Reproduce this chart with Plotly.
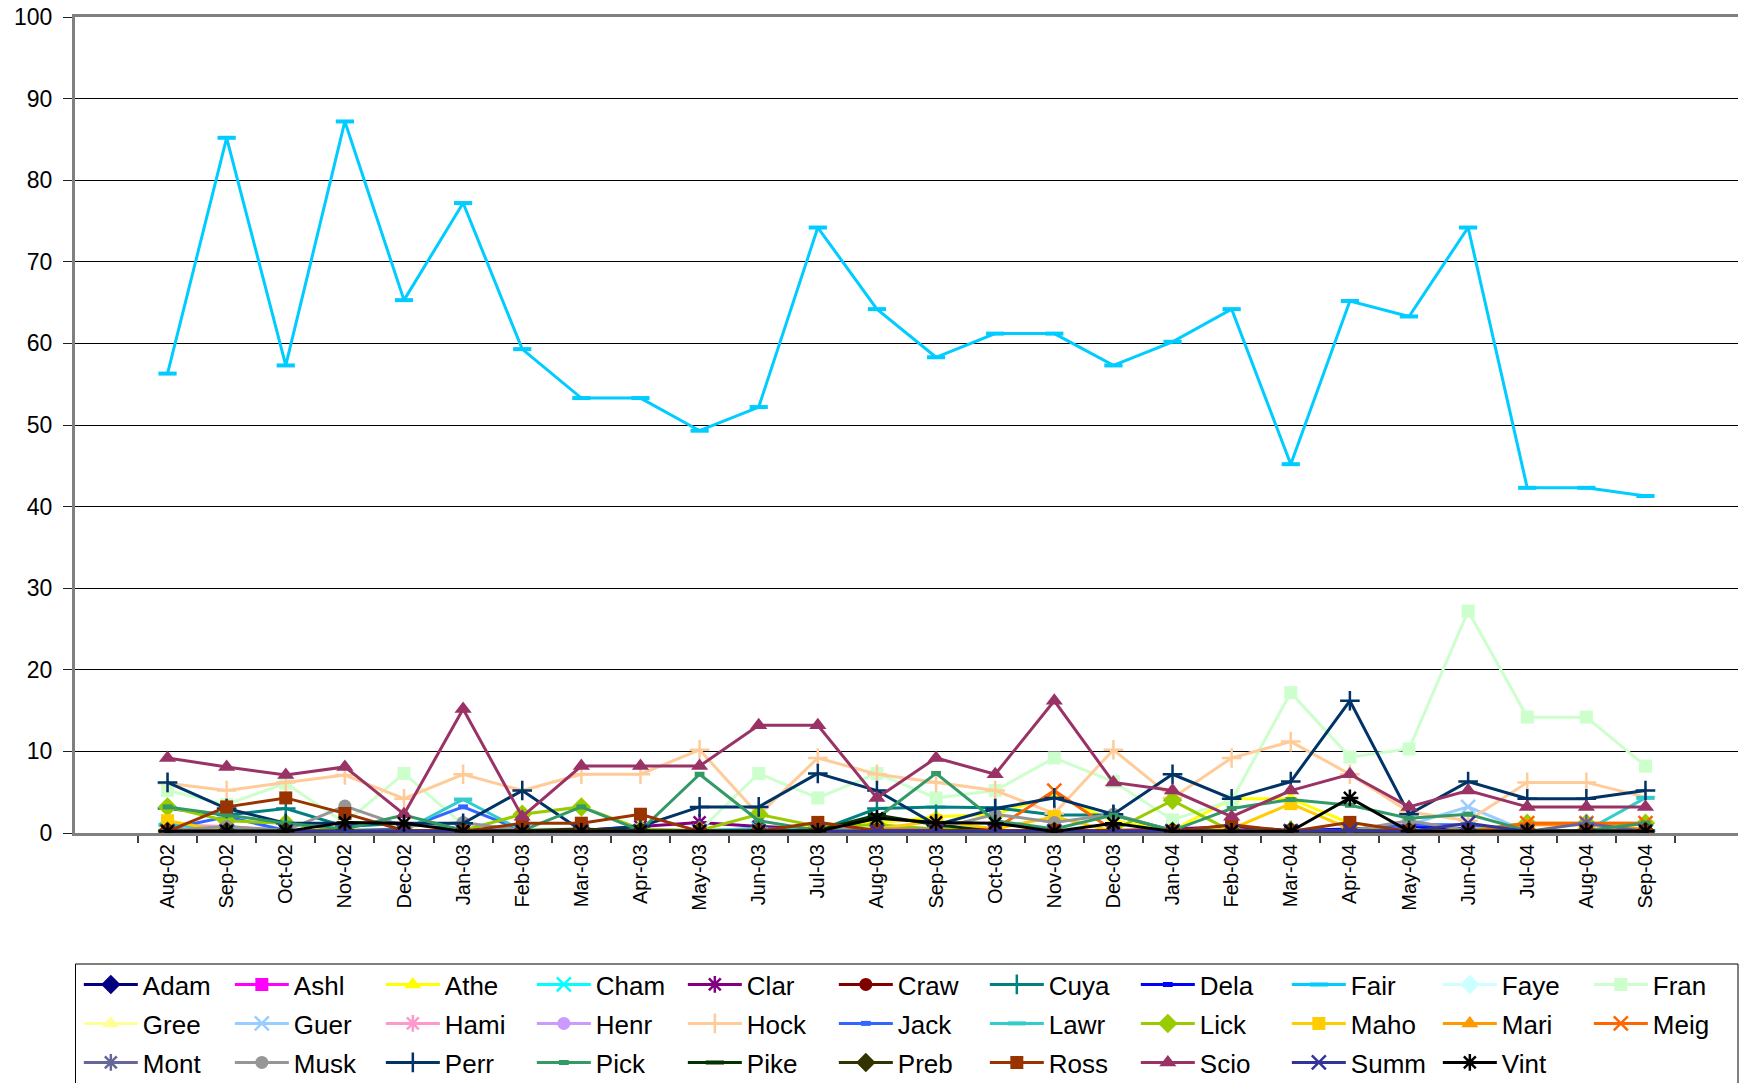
import plotly.graph_objects as go

months = ["Aug-02", "Sep-02", "Oct-02", "Nov-02", "Dec-02", "Jan-03", "Feb-03", "Mar-03",
          "Apr-03", "May-03", "Jun-03", "Jul-03", "Aug-03", "Sep-03", "Oct-03", "Nov-03",
          "Dec-03", "Jan-04", "Feb-04", "Mar-04", "Apr-04", "May-04", "Jun-04", "Jul-04",
          "Aug-04", "Sep-04"]

adam = [0.3, 0.2, 0.2, 0.2, 0.2, 0.2, 0.2, 0.2, 0.2, 0.2, 0.2, 0.2, 0.2, 0.2, 0.2, 0.2, 0.2, 0.2, 0.2, 0.2, 0.2, 0.2, 0.2, 0.2, 0.2, 0.2]
ashl = [0.2, 0.2, 0.2, 0.2, 0.2, 0.2, 0.2, 0.2, 0.2, 0.2, 0.2, 0.2, 0.2, 0.2, 0.2, 0.2, 0.2, 0.2, 0.2, 0.2, 0.2, 0.2, 0.2, 0.2, 0.2, 0.2]
athe = [1.0, 0.5, 0.3, 0.3, 0.3, 0.3, 0.3, 0.3, 0.3, 0.3, 0.5, 1.0, 1.2, 2.0, 2.3, 4.6, 1.5, 0.3, 4.2, 4.2, 1.2, 0.3, 0.3, 0.3, 0.3, 0.3]
cham = [0.5, 0.3, 0.2, 0.2, 0.2, 0.2, 0.2, 0.2, 0.2, 0.2, 0.6, 0.3, 0.3, 0.2, 0.2, 0.2, 0.2, 0.2, 0.2, 0.2, 0.2, 0.2, 0.5, 0.2, 0.2, 0.2]
clar = [0.3, 0.3, 0.3, 0.3, 0.3, 0.3, 0.3, 0.3, 0.8, 1.3, 0.8, 0.5, 0.3, 0.3, 0.3, 0.3, 0.3, 0.5, 0.8, 0.3, 0.3, 0.3, 0.3, 0.3, 0.3, 0.3]
craw = [0.5, 0.3, 0.2, 0.2, 0.2, 0.2, 0.2, 0.2, 0.2, 0.2, 0.2, 0.2, 0.2, 0.2, 0.2, 0.2, 0.2, 0.2, 0.2, 0.2, 0.2, 0.2, 0.2, 0.2, 0.2, 0.2]
cuya = [3.0, 2.2, 3.0, 0.8, 1.2, 0.5, 0.3, 0.3, 0.3, 0.3, 0.3, 0.3, 3.0, 3.2, 3.1, 2.2, 2.2, 0.3, 0.3, 0.3, 0.3, 0.3, 0.3, 0.3, 0.3, 0.3]
dela = [0.2, 0.2, 0.2, 0.2, 0.2, 0.2, 0.2, 0.2, 0.2, 0.2, 0.2, 0.2, 0.2, 0.2, 0.2, 0.2, 0.2, 0.2, 0.2, 0.3, 0.5, 0.8, 0.5, 0.2, 0.2, 0.2]
fair = [56.3, 85.2, 57.3, 87.2, 65.3, 77.2, 59.3, 53.3, 53.3, 49.3, 52.2, 74.2, 64.2, 58.3, 61.2, 61.2, 57.3, 60.2, 64.2, 45.2, 65.2, 63.3, 74.2, 42.3, 42.3, 41.3]
faye = [0.2, 0.2, 0.2, 0.2, 0.2, 0.2, 0.2, 0.2, 0.2, 0.2, 0.2, 0.2, 0.2, 0.2, 0.2, 0.2, 0.2, 0.2, 0.2, 0.2, 0.2, 0.2, 0.2, 0.2, 0.2, 0.2]
fran = [5.2, 3.5, 6.1, 1.2, 7.3, 1.0, 0.5, 0.5, 0.3, 0.3, 7.3, 4.3, 7.3, 4.3, 5.2, 9.2, 6.3, 1.6, 4.0, 17.2, 9.3, 10.3, 27.2, 14.2, 14.2, 8.2]
gree = [0.2, 0.2, 0.2, 0.2, 0.2, 0.2, 0.2, 0.2, 0.2, 0.2, 0.2, 0.2, 0.2, 0.2, 0.2, 0.2, 0.2, 0.2, 0.2, 0.2, 0.2, 0.2, 0.2, 0.2, 0.2, 0.2]
guer = [0.2, 0.2, 0.2, 0.2, 0.2, 0.2, 0.2, 0.2, 0.2, 0.2, 0.2, 0.2, 0.2, 0.2, 0.2, 0.2, 0.2, 0.2, 0.2, 0.2, 0.2, 1.0, 3.2, 0.2, 0.2, 0.2]
hami = [1.0, 0.8, 0.3, 0.2, 0.2, 0.2, 0.2, 0.2, 0.2, 0.2, 0.2, 0.2, 0.2, 0.2, 0.2, 0.2, 0.2, 0.2, 0.2, 0.2, 0.2, 0.2, 0.2, 0.2, 0.2, 0.2]
henr = [0.2, 0.2, 0.2, 0.2, 0.2, 0.2, 0.2, 0.2, 0.2, 0.2, 0.2, 0.2, 0.2, 0.2, 0.2, 0.2, 0.2, 0.2, 0.2, 0.2, 0.2, 0.2, 0.2, 0.2, 0.2, 0.2]
hock = [6.1, 5.2, 6.2, 7.1, 4.2, 7.2, 5.2, 7.2, 7.2, 10.2, 2.2, 9.2, 7.2, 6.2, 5.2, 2.4, 10.2, 4.3, 9.2, 11.2, 7.2, 2.6, 1.5, 6.2, 6.2, 4.4]
jack = [0.5, 2.0, 0.3, 0.3, 0.5, 3.2, 0.3, 0.3, 0.3, 0.3, 0.3, 0.3, 0.3, 0.3, 0.3, 0.3, 0.3, 0.3, 0.3, 0.3, 0.3, 1.0, 1.0, 0.3, 0.3, 0.3]
lawr = [1.0, 0.5, 0.3, 0.3, 0.3, 4.1, 0.3, 0.3, 0.3, 0.3, 0.5, 0.5, 0.3, 0.3, 0.3, 0.3, 0.3, 0.3, 0.3, 0.3, 0.3, 0.3, 0.3, 0.3, 0.3, 4.3]
lick = [3.2, 1.5, 1.2, 0.3, 0.3, 0.3, 2.3, 3.2, 0.5, 0.3, 2.3, 0.8, 1.0, 0.5, 0.3, 0.3, 0.3, 4.0, 0.2, 0.3, 0.3, 0.3, 0.3, 1.2, 1.2, 1.2]
maho = [1.5, 0.2, 0.2, 0.2, 0.2, 0.2, 0.2, 0.2, 0.2, 0.2, 0.2, 0.2, 0.5, 1.5, 0.5, 2.0, 0.2, 0.2, 0.5, 3.6, 0.5, 0.2, 0.2, 0.2, 0.2, 0.2]
mari = [0.3, 0.2, 0.2, 0.2, 0.2, 0.2, 0.2, 0.2, 0.2, 0.2, 0.2, 0.2, 0.2, 0.2, 0.2, 0.2, 0.2, 0.2, 0.2, 0.2, 0.2, 0.2, 0.2, 1.0, 1.0, 0.5]
meig = [0.2, 0.2, 0.2, 0.2, 0.2, 0.2, 0.2, 0.2, 0.2, 0.2, 0.2, 0.2, 0.2, 0.2, 0.5, 5.2, 0.3, 0.2, 0.2, 0.2, 0.2, 0.2, 0.2, 1.2, 1.2, 1.2]
mont = [0.2, 0.2, 0.2, 0.2, 0.2, 0.2, 0.2, 0.2, 0.2, 0.2, 0.2, 0.2, 0.2, 0.2, 0.2, 0.2, 0.2, 0.2, 0.2, 0.2, 0.2, 0.2, 0.2, 0.2, 1.2, 0.2]
musk = [0.3, 0.8, 0.3, 3.3, 0.8, 1.3, 0.3, 0.3, 0.3, 0.3, 0.3, 0.3, 0.5, 0.5, 2.3, 1.3, 2.3, 0.3, 0.3, 0.3, 0.3, 1.5, 0.3, 0.3, 0.3, 0.3]
perr = [6.2, 3.0, 1.2, 1.2, 1.2, 1.2, 5.2, 0.3, 0.8, 3.2, 3.2, 7.3, 5.2, 1.0, 3.0, 4.3, 2.3, 7.2, 4.2, 6.3, 16.2, 2.3, 6.3, 4.2, 4.2, 5.2]
pick = [3.2, 2.2, 1.2, 0.5, 2.2, 0.3, 0.3, 3.2, 0.3, 7.2, 1.5, 0.3, 1.8, 7.3, 1.5, 0.5, 2.2, 0.3, 3.0, 4.1, 3.4, 1.8, 2.3, 0.3, 0.3, 1.2]
pike = [0.2, 0.2, 0.2, 0.2, 0.2, 0.2, 0.2, 0.2, 0.2, 0.2, 0.2, 0.3, 2.2, 1.0, 0.2, 0.2, 0.2, 0.2, 0.2, 0.2, 0.2, 0.2, 0.2, 0.2, 0.2, 0.2]
preb = [0.2, 0.2, 0.2, 0.2, 0.2, 0.2, 0.3, 0.5, 0.2, 0.2, 0.2, 0.2, 0.2, 0.2, 0.2, 0.2, 0.2, 0.2, 0.2, 0.2, 0.2, 0.2, 0.2, 0.2, 0.2, 0.2]
ross = [0.2, 3.2, 4.3, 2.4, 0.3, 0.2, 1.2, 1.2, 2.3, 0.2, 0.2, 1.3, 0.3, 0.3, 0.3, 0.3, 0.3, 0.2, 1.0, 0.2, 1.3, 0.2, 0.2, 0.2, 0.2, 0.2]
scio = [9.2, 8.1, 7.1, 8.1, 2.3, 15.2, 2.0, 8.2, 8.2, 8.2, 13.2, 13.2, 4.3, 9.2, 7.2, 16.2, 6.2, 5.2, 2.0, 5.2, 7.2, 3.2, 5.2, 3.2, 3.2, 3.2]
summ = [0.2, 0.2, 0.2, 0.2, 0.2, 0.2, 0.2, 0.2, 0.2, 0.2, 0.2, 0.2, 0.2, 0.2, 0.2, 0.2, 0.2, 0.2, 0.2, 0.2, 0.3, 0.2, 1.2, 0.2, 0.2, 0.2]
vint = [0.2, 0.2, 0.2, 1.3, 1.2, 0.2, 0.2, 0.2, 0.2, 0.2, 0.2, 0.2, 1.8, 1.3, 1.2, 0.2, 1.2, 0.2, 0.2, 0.2, 4.3, 0.2, 0.2, 0.2, 0.2, 0.2]

series_names = ["Adam", "Ashl", "Athe", "Cham", "Clar", "Craw", "Cuya", "Dela", "Fair", "Faye", "Fran",
                "Gree", "Guer", "Hami", "Henr", "Hock", "Jack", "Lawr", "Lick", "Maho", "Mari", "Meig",
                "Mont", "Musk", "Perr", "Pick", "Pike", "Preb", "Ross", "Scio", "Summ", "Vint"]
series_values = [adam, ashl, athe, cham, clar, craw, cuya, dela, fair, faye, fran,
                 gree, guer, hami, henr, hock, jack, lawr, lick, maho, mari, meig,
                 mont, musk, perr, pick, pike, preb, ross, scio, summ, vint]
colors = ["#000080", "#FF00FF", "#FFFF00", "#00FFFF", "#800080", "#800000", "#008080", "#0000FF",
          "#00CCFF", "#CCFFFF", "#CCFFCC", "#FFFF99", "#99CCFF", "#FF99CC", "#CC99FF", "#FFCC99",
          "#3366FF", "#33CCCC", "#99CC00", "#FFCC00", "#FF9900", "#FF6600", "#666699", "#969696",
          "#003366", "#339966", "#003300", "#333300", "#993300", "#993366", "#333399", "#000000"]
marker_cycle = ["diamond", "square", "triangle-up", "x-thin", "asterisk", "circle", "cross-thin",
                "shortdash", "longdash"]
legend_rows = ["legend", "legend2", "legend3"]
per_row = 11

fig = go.Figure()
for i, (name, vals) in enumerate(zip(series_names, series_values)):
    c = colors[i]
    kind = marker_cycle[i % len(marker_cycle)]
    if kind == "shortdash":
        mk = dict(symbol="line-ew", size=7, line=dict(width=5, color=c), color=c)
    elif kind == "longdash":
        mk = dict(symbol="line-ew", size=13, line=dict(width=4, color=c), color=c)
    elif kind in ("x-thin", "asterisk", "cross-thin"):
        mk = dict(symbol=kind, size=14, line=dict(width=2.5, color=c), color=c)
    elif kind in ("triangle-up", "diamond"):
        mk = dict(symbol=kind, size=15, color=c, line=dict(width=0))
    else:
        mk = dict(symbol=kind, size=13, color=c, line=dict(width=0))
    fig.add_trace(go.Scatter(x=months, y=vals, name=name, mode="lines+markers",
                             line=dict(color=c, width=3), marker=mk,
                             legend=legend_rows[i // per_row]))

font_family = "Liberation Sans, Arial, sans-serif"
H, T, B = 1083, 17, 250
plot_h = H - T - B


def py(px):
    return (H - B - px) / plot_h


leg_common = dict(orientation="h", x=-0.0001, xanchor="left", yanchor="top",
                  bgcolor="rgba(0,0,0,0)", borderwidth=0,
                  font=dict(size=26, family=font_family, color="black"),
                  itemwidth=54, indentation=4, entrywidth=78, traceorder="normal")

fig.update_layout(
    width=1741, height=H,
    margin=dict(l=75, r=3, t=T, b=B, autoexpand=False),
    paper_bgcolor="white", plot_bgcolor="white",
    font=dict(family=font_family, color="black"),
    showlegend=True,
    legend=dict(y=py(961), **leg_common),
    legend2=dict(y=py(1000), **leg_common),
    legend3=dict(y=py(1039), **leg_common),
    shapes=[dict(type="rect", xref="paper", yref="paper", x0=0.0003, x1=1.0,
                 y0=py(964), y1=py(1120), line=dict(color="black", width=1),
                 fillcolor="rgba(0,0,0,0)", layer="above")],
)
fig.update_xaxes(type="category", tickson="boundaries", ticks="outside", ticklen=7,
                 tickcolor="#404040", tickwidth=1.5, showline=True, linecolor="#808080",
                 linewidth=3, mirror=True, tickangle=-90, tickfont=dict(size=20), showgrid=False)
fig.update_yaxes(range=[0, 100], dtick=10, ticks="outside", ticklen=9, tickcolor="#202020",
                 tickwidth=1, showline=True, linecolor="#808080", linewidth=3,
                 showgrid=True, gridcolor="#000000", gridwidth=1, zeroline=False,
                 tickfont=dict(size=23), ticklabelstandoff=6)

fig.write_html("out.html", config={"displayModeBar": False},
               post_script="document.body.style.margin='0px';")
